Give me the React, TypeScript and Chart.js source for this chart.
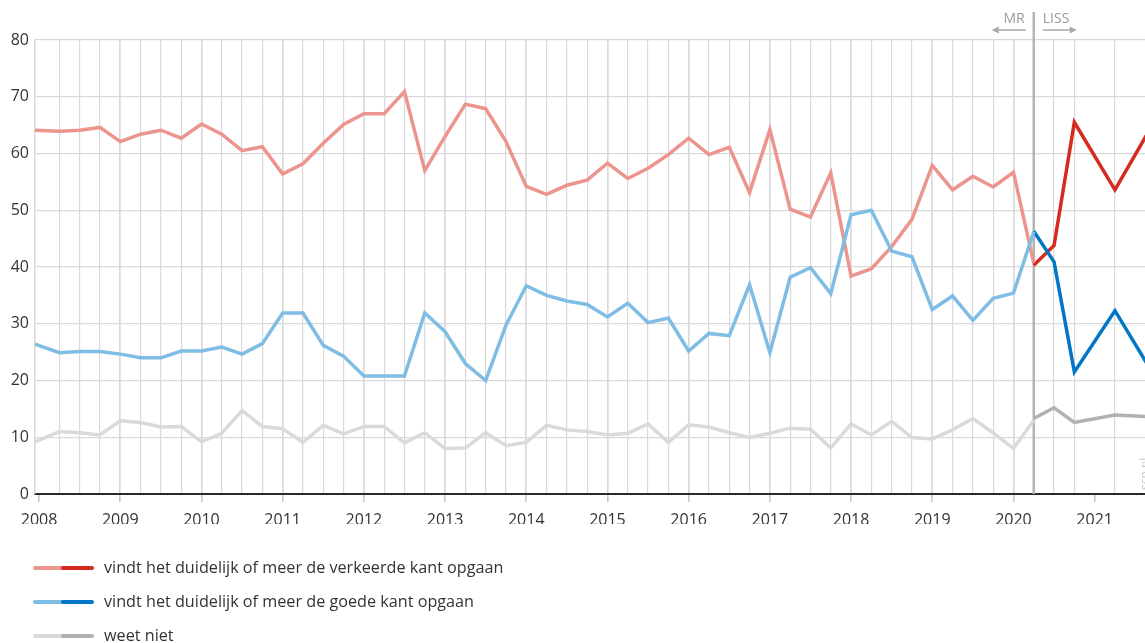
import React, { useEffect, useRef } from "react";
import { Chart, registerables } from "chart.js";

Chart.register(...registerables);

// MR panel: quarterly observations (decimal year positions)
const mrDates = [
  2007.95, 2008.25, 2008.5, 2008.75, 2009.0, 2009.25, 2009.5, 2009.75,
  2010.0, 2010.25, 2010.5, 2010.75, 2011.0, 2011.25, 2011.5, 2011.75,
  2012.0, 2012.25, 2012.5, 2012.75, 2013.0, 2013.25, 2013.5, 2013.75,
  2014.0, 2014.25, 2014.5, 2014.75, 2015.0, 2015.25, 2015.5, 2015.75,
  2016.0, 2016.25, 2016.5, 2016.75, 2017.0, 2017.25, 2017.5, 2017.75,
  2018.0, 2018.25, 2018.5, 2018.75, 2019.0, 2019.25, 2019.5, 2019.75,
  2020.0, 2020.25,
];
const mrWrong = [
  64.1, 63.9, 64.1, 64.6, 62.1, 63.4, 64.1, 62.7, 65.2, 63.4,
  60.5, 61.2, 56.4, 58.2, 61.8, 65.1, 67.0, 67.0, 70.9, 57.0,
  63.0, 68.7, 67.9, 62.1, 54.2, 52.8, 54.4, 55.3, 58.3, 55.6,
  57.4, 59.8, 62.7, 59.8, 61.1, 53.1, 64.2, 50.2, 48.8, 56.6,
  38.4, 39.7, 43.6, 48.4, 57.9, 53.6, 56.0, 54.1, 56.7, 40.7,
];
const mrGood = [
  26.4, 24.9, 25.1, 25.1, 24.65, 24.0, 24.0, 25.2, 25.2, 25.9,
  24.65, 26.5, 31.9, 31.9, 26.2, 24.3, 20.8, 20.8, 20.8, 31.9,
  28.6, 23.0, 20.0, 29.75, 36.7, 35.0, 34.0, 33.4, 31.2, 33.6,
  30.2, 31.0, 25.2, 28.3, 27.9, 36.9, 24.9, 38.2, 39.9, 35.3,
  49.2, 50.0, 42.8, 41.8, 32.5, 34.9, 30.6, 34.5, 35.4, 46.2,
];
const mrDontKnow = [
  9.2, 11.0, 10.8, 10.4, 12.9, 12.6, 11.8, 11.9, 9.2, 10.7,
  14.7, 11.9, 11.5, 9.1, 12.1, 10.6, 11.9, 11.9, 9.0, 10.8,
  8.0, 8.1, 10.8, 8.5, 9.1, 12.1, 11.3, 11.0, 10.4, 10.7,
  12.35, 9.1, 12.2, 11.8, 10.8, 9.95, 10.7, 11.6, 11.4, 8.1,
  12.35, 10.4, 12.8, 9.95, 9.7, 11.3, 13.3, 10.8, 8.0, 13.0,
];

// LISS panel
const lissDates = [2020.25, 2020.5, 2020.75, 2021.25, 2021.75];
const lissWrong = [40.3, 43.8, 65.5, 53.6, 66.0];
const lissGood = [46.3, 40.9, 21.5, 32.3, 20.5];
const lissDontKnow = [13.3, 15.2, 12.6, 13.9, 13.6];

const yearLabels = [2008, 2009, 2010, 2011, 2012, 2013, 2014, 2015, 2016, 2017, 2018, 2019, 2020, 2021];
const yTicks = [0, 10, 20, 30, 40, 50, 60, 70, 80];
const switchDate = 2020.25;
const xMin = 2007.95;
const xMax = 2021.62;

const legendLabels = [
  "vindt het duidelijk of meer de verkeerde kant opgaan",
  "vindt het duidelijk of meer de goede kant opgaan",
  "weet niet",
];
const lightColors = ["#ec958e", "#7fbde5", "#dadada"];
const darkColors = ["#d52a1f", "#0077c6", "#b1b1b1"];

const FONT = "'Open Sans', 'Noto Sans', sans-serif";

const toPoints = (xs: number[], ys: number[]) => xs.map((x, i) => ({ x, y: ys[i] }));

export default function App() {
  const canvasRef = useRef<HTMLCanvasElement | null>(null);

  useEffect(() => {
    const canvas = canvasRef.current;
    if (!canvas) return;

    const isYear = (v: number) => Math.abs(v - Math.round(v)) < 1e-6;
    const dataTickSet = new Set<number>([...mrDates.slice(1), ...lissDates]);
    const tickValues = Array.from(new Set<number>([...dataTickSet, ...yearLabels]))
      .filter((v) => v > xMin && v <= xMax)
      .sort((a, b) => a - b);

    const decor = {
      id: "decor",
      beforeDatasetsDraw(chart: any) {
        const { ctx, chartArea, scales } = chart;
        const xp = scales.x.getPixelForValue(switchDate);
        ctx.save();
        ctx.strokeStyle = "#b4b4b4";
        ctx.lineWidth = 2.5;
        ctx.beginPath();
        ctx.moveTo(xp, 12);
        ctx.lineTo(xp, chartArea.bottom);
        ctx.stroke();
        ctx.restore();
      },
      afterDraw(chart: any) {
        const { ctx, chartArea, scales } = chart;
        const xp = scales.x.getPixelForValue(switchDate);
        ctx.save();
        // MR / LISS labels
        ctx.fillStyle = "#9a9a9a";
        ctx.font = `14px ${FONT}`;
        ctx.textBaseline = "middle";
        ctx.textAlign = "right";
        ctx.fillText("MR", xp - 9, 19);
        ctx.textAlign = "left";
        ctx.fillText("LISS", xp + 9, 19);
        // arrows
        ctx.strokeStyle = "#a8a8a8";
        ctx.fillStyle = "#a8a8a8";
        ctx.lineWidth = 1.5;
        const ay = 30;
        ctx.beginPath();
        ctx.moveTo(xp - 8, ay);
        ctx.lineTo(xp - 38, ay);
        ctx.stroke();
        ctx.beginPath();
        ctx.moveTo(xp - 42, ay);
        ctx.lineTo(xp - 35, ay - 3.5);
        ctx.lineTo(xp - 35, ay + 3.5);
        ctx.closePath();
        ctx.fill();
        ctx.beginPath();
        ctx.moveTo(xp + 9, ay);
        ctx.lineTo(xp + 39, ay);
        ctx.stroke();
        ctx.beginPath();
        ctx.moveTo(xp + 43, ay);
        ctx.lineTo(xp + 36, ay - 3.5);
        ctx.lineTo(xp + 36, ay + 3.5);
        ctx.closePath();
        ctx.fill();

        // source text, rotated
        ctx.save();
        ctx.translate(1149, chartArea.bottom - 4);
        ctx.rotate(-Math.PI / 2);
        ctx.font = `12px ${FONT}`;
        ctx.fillStyle = "#c8c8c8";
        ctx.textAlign = "left";
        ctx.textBaseline = "alphabetic";
        ctx.fillText("scp.nl", 0, 0);
        ctx.restore();

        // legend
        const ys = [568, 602, 636];
        legendLabels.forEach((label, i) => {
          const y = ys[i];
          ctx.lineCap = "round";
          ctx.lineWidth = 4;
          ctx.strokeStyle = lightColors[i];
          ctx.beginPath();
          ctx.moveTo(35, y);
          ctx.lineTo(62, y);
          ctx.stroke();
          ctx.strokeStyle = darkColors[i];
          ctx.beginPath();
          ctx.moveTo(63, y);
          ctx.lineTo(92, y);
          ctx.stroke();
          ctx.fillStyle = "#333333";
          ctx.font = `16.2px ${FONT}`;
          ctx.textAlign = "left";
          ctx.textBaseline = "middle";
          ctx.fillText(label, 104, y);
        });
        ctx.restore();
      },
    };

    const line = (data: any, color: string) => ({
      data,
      borderColor: color,
      backgroundColor: color,
      borderWidth: 3.5,
      pointRadius: 0,
      tension: 0,
      fill: false,
    });

    const chart = new Chart(canvas, {
      type: "line",
      data: {
        datasets: [
          line(toPoints(mrDates, mrDontKnow), lightColors[2]),
          line(toPoints(mrDates, mrGood), lightColors[1]),
          line(toPoints(mrDates, mrWrong), lightColors[0]),
          line(toPoints(lissDates, lissDontKnow), darkColors[2]),
          line(toPoints(lissDates, lissGood), darkColors[1]),
          line(toPoints(lissDates, lissWrong), darkColors[0]),
        ] as any,
      },
      options: {
        animation: false,
        responsive: false,
        parsing: false as any,
        layout: { padding: { top: 40, right: 0, left: 0, bottom: 119 } },
        plugins: { legend: { display: false }, tooltip: { enabled: false } },
        scales: {
          x: {
            type: "linear",
            min: xMin,
            max: xMax,
            afterBuildTicks: (scale: any) => {
              scale.ticks = tickValues.map((v) => ({ value: v }));
            },
            afterFit: (scale: any) => {
              scale.height = 30;
            },
            grid: {
              color: (ctx: any) =>
                ctx.tick && dataTickSet.has(ctx.tick.value) ? "#d9d9d9" : "rgba(0,0,0,0)",
              lineWidth: (ctx: any) => (ctx.tick && isYear(ctx.tick.value) ? 1.7 : 1.2),
              tickColor: (ctx: any) =>
                ctx.tick && isYear(ctx.tick.value) ? "#c4c4c4" : "rgba(0,0,0,0)",
              tickLength: 8,
              tickWidth: 1.5,
              drawTicks: true,
            },
            border: { display: true, color: "#2a2a2a", width: 2 },
            ticks: {
              autoSkip: false,
              maxRotation: 0,
              minRotation: 0,
              padding: 9,
              color: "#333333",
              font: { family: FONT, size: 16 },
              callback: (v: any) => (isYear(Number(v)) ? String(Math.round(Number(v))) : ""),
            },
          },
          y: {
            type: "linear",
            min: 0,
            max: 80,
            afterBuildTicks: (scale: any) => {
              scale.ticks = yTicks.map((v) => ({ value: v }));
            },
            afterFit: (scale: any) => {
              scale.width = 35;
            },
            grid: { color: "#d9d9d9", lineWidth: 1.2, drawTicks: false },
            border: { display: true, color: "#d9d9d9", width: 1.5 },
            ticks: {
              padding: 6,
              color: "#333333",
              font: { family: FONT, size: 16 },
            },
          },
        },
      },
      plugins: [decor],
    });

    return () => chart.destroy();
  }, []);

  return (
    <div style={{ position: "fixed", left: 0, top: 0, width: 1145, height: 643, overflow: "hidden", background: "#fff" }}>
      <canvas ref={canvasRef} width={1145} height={643} style={{ display: "block" }} />
    </div>
  );
}
